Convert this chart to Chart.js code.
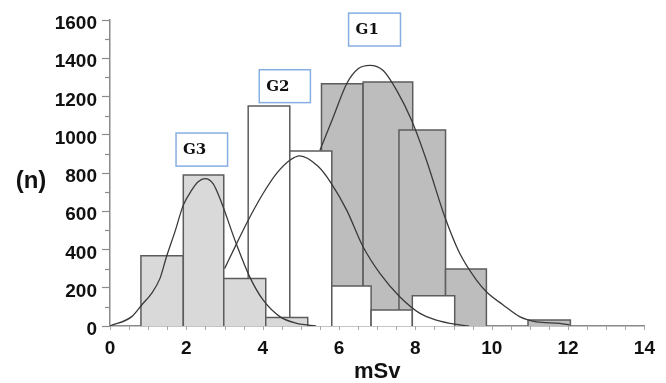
<!DOCTYPE html>
<html><head><meta charset="utf-8">
<script src="https://cdn.jsdelivr.net/npm/chart.js@4/dist/chart.umd.min.js"></script>
<style>html,body{margin:0;padding:0;background:#fff;} #wrap{width:666px;height:383px;}</style>
</head><body><div id="wrap"><canvas id="c" width="666" height="383"></canvas></div>
<script>
// ---- data ----
const xTickValues = [0, 2, 4, 6, 8, 10, 12, 14];
const yTickValues = [0, 200, 400, 600, 800, 1000, 1200, 1400, 1600];
const groupNames = ['G1', 'G2', 'G3'];

const g1BinLeft  = [5.54, 6.63, 7.57, 8.79, 10.95];
const g1BinRight = [6.63, 7.93, 8.79, 9.86, 12.06];
const g1Counts   = [1267, 1276, 1025, 298, 31];

const g2BinLeft  = [3.62, 4.71, 5.81, 6.84, 7.92];
const g2BinRight = [4.71, 5.81, 6.84, 7.92, 9.03];
const g2Counts   = [1150, 915, 209, 84, 158];

const g3BinLeft  = [0.81, 1.92, 2.98, 4.08];
const g3BinRight = [1.92, 2.98, 4.08, 5.18];
const g3Counts   = [367, 789, 249, 45];

const g1CurveX = [5.5, 5.85, 6.2, 6.5, 6.81, 7.15, 7.51, 7.9, 8.29, 8.77, 9.16, 9.6, 9.88, 10.3, 10.73, 11.17, 11.78, 12.04];
const g1CurveY = [919, 1093, 1267, 1345, 1363, 1337, 1232, 1076, 867, 571, 380, 240, 175, 110, 49, 22, 14, 5];

const g2CurveX = [3.0, 3.32, 3.62, 4.01, 4.36, 4.71, 4.97, 5.45, 5.8, 6.2, 6.63, 7.07, 7.59, 8.12, 8.55, 9.08, 9.4];
const g2CurveY = [300, 432, 553, 693, 797, 867, 890, 835, 745, 606, 414, 275, 153, 66, 31, 8, 0];

const g3CurveX = [0, 0.57, 0.83, 1.09, 1.31, 1.48, 1.7, 1.92, 2.14, 2.31, 2.49, 2.7, 2.88, 3.32, 3.66, 4.01, 4.45, 4.89, 5.19, 5.4];
const g3CurveY = [0, 49, 110, 171, 249, 362, 492, 632, 710, 754, 771, 745, 667, 423, 257, 136, 49, 14, 5, 0];

// ---- layout / style (not data) ----
const labelBoxes = {
  G1: {x0: 6.25, x1: 7.61, y0: 1464, y1: 1636},
  G2: {x0: 3.91, x1: 5.25, y0: 1168, y1: 1340},
  G3: {x0: 1.73, x1: 3.08, y0: 836, y1: 1009}
};
const fills = {G1: '#bdbdbd', G2: '#ffffff', G3: '#d9d9d9'};
const edge = '#5c5c5c';
const curveColor = '#3a3a3a';
const axisColor = '#8a8a8a';

function barDatasets(name, lefts, rights, counts) {
  return counts.map((h, i) => ({
    label: name + ' bin ' + (i + 1),
    data: [{x: lefts[i], y: 0}, {x: lefts[i], y: h}, {x: rights[i], y: h}, {x: rights[i], y: 0}],
    borderColor: edge, borderWidth: 1.5, backgroundColor: fills[name],
    fill: 'origin', pointRadius: 0, tension: 0
  }));
}
function curveDataset(name, xs, ys) {
  return {
    label: name + ' fit',
    data: xs.map((x, i) => ({x: x, y: ys[i]})),
    borderColor: curveColor, borderWidth: 1.3, fill: false,
    pointRadius: 0, cubicInterpolationMode: 'monotone'
  };
}

// back-to-front
const layers = [
  ...barDatasets('G1', g1BinLeft, g1BinRight, g1Counts),
  curveDataset('G1', g1CurveX, g1CurveY),
  ...barDatasets('G2', g2BinLeft, g2BinRight, g2Counts),
  curveDataset('G2', g2CurveX, g2CurveY),
  ...barDatasets('G3', g3BinLeft, g3BinRight, g3Counts),
  curveDataset('G3', g3CurveX, g3CurveY)
];
layers.forEach((d, i) => { d.order = layers.length - i; });

const extras = {
  id: 'extras',
  afterDraw(chart) {
    const ctx = chart.ctx, xs = chart.scales.x, ys = chart.scales.y;
    const ca = chart.chartArea;
    ctx.save();
    // minor y ticks
    ctx.strokeStyle = axisColor; ctx.lineWidth = 1.2;
    for (let i = 0; i < yTickValues.length - 1; i++) {
      const v = (yTickValues[i] + yTickValues[i + 1]) / 2;
      const py = Math.round(ys.getPixelForValue(v)) + 0.5;
      ctx.beginPath(); ctx.moveTo(ca.left - 5, py); ctx.lineTo(ca.left, py); ctx.stroke();
    }
    // minor x ticks
    ctx.strokeStyle = '#a8a8a8'; ctx.lineWidth = 1;
    for (let v = 0; v <= 14; v += 0.5) {
      const px = Math.round(xs.getPixelForValue(v)) + 0.5;
      ctx.beginPath(); ctx.moveTo(px, ca.bottom); ctx.lineTo(px, ca.bottom + 4); ctx.stroke();
    }
    // (n)
    ctx.fillStyle = '#111';
    ctx.font = 'bold 24px "Liberation Sans", Arial, sans-serif';
    ctx.textAlign = 'center'; ctx.textBaseline = 'middle';
    ctx.fillText('(n)', 31, 181);
    // group label boxes
    groupNames.forEach(n => {
      const b = labelBoxes[n];
      const l = xs.getPixelForValue(b.x0), r = xs.getPixelForValue(b.x1);
      const t = ys.getPixelForValue(b.y1), btm = ys.getPixelForValue(b.y0);
      ctx.fillStyle = '#fff';
      ctx.fillRect(l, t, r - l, btm - t);
      ctx.strokeStyle = '#86aee3'; ctx.lineWidth = 1.5;
      ctx.strokeRect(l, t, r - l, btm - t);
      ctx.fillStyle = '#111';
      ctx.font = 'bold 15px "DejaVu Serif", serif';
      ctx.textAlign = 'left'; ctx.textBaseline = 'middle';
      ctx.fillText(n, l + 7, (t + btm) / 2 + 1);
    });
    ctx.restore();
  }
};

new Chart(document.getElementById('c'), {
  type: 'line',
  data: {datasets: layers},
  options: {
    responsive: false, animation: false, devicePixelRatio: 1,
    layout: {padding: {left: 0, top: 20, right: 21, bottom: 0}},
    plugins: {legend: {display: false}, tooltip: {enabled: false}},
    scales: {
      x: {
        type: 'linear', min: 0, max: 14,
        afterBuildTicks: s => { s.ticks = xTickValues.map(v => ({value: v})); },
        afterFit: s => { s.height = 57; },
        grid: {display: false, drawTicks: false},
        border: {display: true, color: axisColor, width: 1.5},
        ticks: {color: '#111', padding: 11, maxRotation: 0,
                font: {family: '"Liberation Sans", Arial, sans-serif', size: 19, weight: 'bold'}},
        title: {display: true, text: 'mSv', color: '#111', padding: 0,
                font: {family: '"Liberation Sans", Arial, sans-serif', size: 22, weight: 'bold', lineHeight: 1}}
      },
      y: {
        min: 0, max: 1600,
        afterBuildTicks: s => { s.ticks = yTickValues.map(v => ({value: v})); },
        afterFit: s => { s.width = 110; },
        grid: {display: true, drawOnChartArea: false, drawTicks: true, tickLength: 8, tickColor: axisColor, tickWidth: 1.2},
        border: {display: true, color: axisColor, width: 1.5},
        ticks: {color: '#111', padding: 5, autoSkip: false,
                callback: v => ['', String(v)],
                font: {family: '"Liberation Sans", Arial, sans-serif', size: 19, weight: 'bold', lineHeight: 0.42}}
      }
    }
  },
  plugins: [extras]
});
</script>
</body></html>
